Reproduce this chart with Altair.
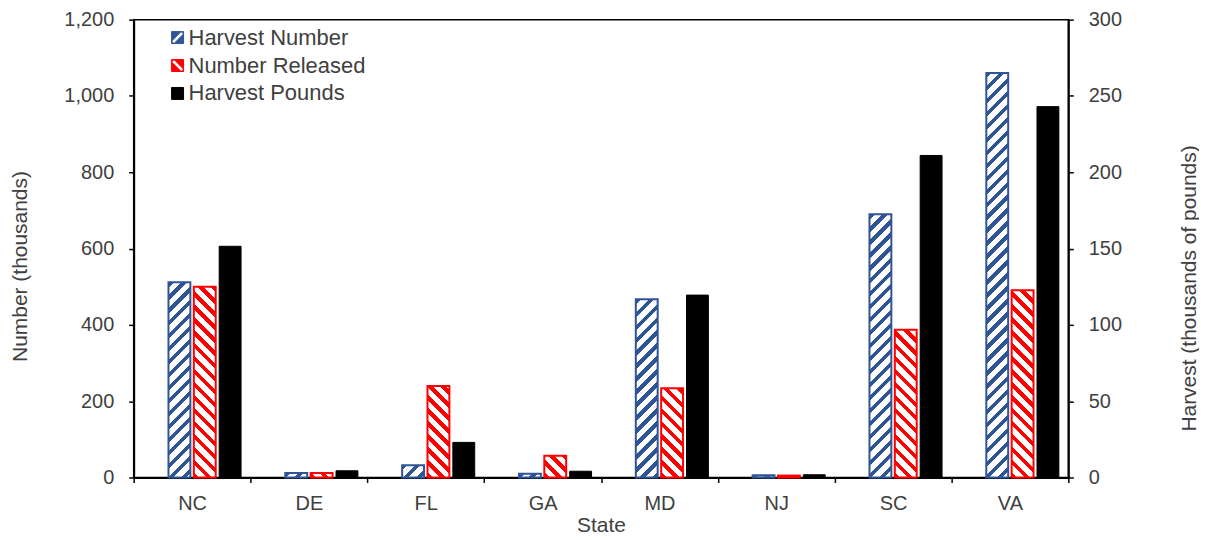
import math
import altair as alt
import pandas as pd

# ---------------- data ----------------
states = ["NC", "DE", "FL", "GA", "MD", "NJ", "SC", "VA"]
harvest_number = [512, 12, 32, 10, 467, 6, 690, 1060]      # thousands of fish (left axis)
number_released = [500, 12, 240, 57, 234, 5, 387, 491]     # thousands of fish (left axis)
harvest_pounds = [151.5, 4.4, 23, 4.1, 119.5, 1.8, 211, 243]  # thousands of pounds (right axis)

series_names = ["Harvest Number", "Number Released", "Harvest Pounds"]
series_colors = ["#2F5597", "#FF0000", "#000000"]
left_ticks = [0, 200, 400, 600, 800, 1000, 1200]
right_ticks = [0, 50, 100, 150, 200, 250, 300]

# ---------------- layout ----------------
W, H = 937, 459
LEFT_MAX, RIGHT_MAX = 1200, 300
PI, PO = 0.137, 0.373
FONT = "Liberation Sans"
TXT = "#404040"

rows = []
for i, s in enumerate(states):
    rows.append({"State": s, "Series": series_names[0], "Value": harvest_number[i]})
    rows.append({"State": s, "Series": series_names[1], "Value": number_released[i]})
    rows.append({"State": s, "Series": series_names[2], "Value": harvest_pounds[i]})
df = pd.DataFrame(rows)

band = W / len(states)
step = band / (4 - PI + 2 * PO)
bw = step * (1 - PI)


def hatch(color, w, h, forward, period=13.0, frac=0.42):
    """Diagonal stripe fill built as a linear gradient in bounding-box units."""
    S = w + h
    k = w * h * S / (w * w + h * h)
    dx, dy = k / h, k / w
    if forward:
        x1, y1, x2, y2 = 0, 0, dx, dy
    else:
        x1, y1, x2, y2 = 0, 1, dx, 1 - dy
    stops = []
    i = 0
    while True:
        a = i * period / S
        if a >= 1:
            break
        b = min((i + frac) * period / S, 1.0)
        stops += [
            {"offset": a, "color": "white"},
            {"offset": a, "color": color},
            {"offset": b, "color": color},
            {"offset": b, "color": "white"},
        ]
        i += 1
    return {"gradient": "linear", "x1": x1, "y1": y1, "x2": x2, "y2": y2, "stops": stops}


conds = []
for i, s in enumerate(states):
    for name, vals, color, fwd in [
        (series_names[0], harvest_number, series_colors[0], True),
        (series_names[1], number_released, series_colors[1], False),
    ]:
        h = max(vals[i] * H / LEFT_MAX, 0.5)
        conds.append({
            "test": f"datum.State === '{s}' && datum.Series === '{name}'",
            "value": hatch(color, bw, h, fwd),
        })

# legend swatch shapes: square with a white diagonal band cut out
SQ = "M-1,-1L1,-1L1,1L-1,1Z"
legend_shapes = [
    SQ + "M0.6,-1L-1,0.6L-0.6,1L1,-0.6Z",
    SQ + "M-0.6,-1L-1,-0.6L0.6,1L1,0.6Z",
    SQ,
]

legend = alt.Legend(
    title=None, orient="none", legendX=33, legendY=7, padding=0,
    symbolSize=144, symbolStrokeWidth=1,
    labelFontSize=22, labelFont=FONT, labelColor=TXT, labelOffset=0,
    labelLimit=400, rowPadding=6,
)

x_enc = alt.X(
    "State:N", sort=states, title="State",
    scale=alt.Scale(paddingInner=0, paddingOuter=0),
    axis=alt.Axis(labelAngle=0, tickBand="extent", tickSize=5, labelPadding=11,
                  titleY=48, titleBaseline="middle"),
)
xoff = alt.XOffset(
    "Series:N",
    scale=alt.Scale(domain=["_"] + series_names, paddingInner=PI, paddingOuter=PO),
)
stroke_enc = alt.Stroke(
    "Series:N",
    scale=alt.Scale(domain=series_names, range=series_colors),
    legend=legend,
)

left = alt.Chart(df).transform_filter(
    alt.FieldOneOfPredicate(field="Series", oneOf=series_names[:2])
).mark_bar(strokeWidth=2).encode(
    x=x_enc,
    xOffset=xoff,
    y=alt.Y(
        "Value:Q",
        scale=alt.Scale(domain=[0, LEFT_MAX], nice=False),
        axis=alt.Axis(values=left_ticks, format=",d", title="Number (thousands)",
                      orient="left", tickSize=5, labelPadding=15,
                      titleAngle=270, titleX=-113, titleY=247,
                      titleBaseline="middle", titleAlign="center"),
    ),
    stroke=stroke_enc,
    fill=alt.FillValue(value="white", condition=conds),
)

right = alt.Chart(df).transform_filter(
    alt.FieldEqualPredicate(field="Series", equal=series_names[2])
).mark_bar(strokeWidth=1, fill="black").encode(
    x=x_enc,
    xOffset=xoff,
    y=alt.Y(
        "Value:Q",
        scale=alt.Scale(domain=[0, RIGHT_MAX], nice=False),
        axis=alt.Axis(values=right_ticks, format=",d", title="Harvest (thousands of pounds)",
                      orient="right", tickSize=5, labelPadding=15,
                      titleAngle=270, titleX=121, titleY=269,
                      titleBaseline="middle", titleAlign="center"),
    ),
    stroke=stroke_enc,
)

# empty point layer that only contributes legend symbols (shape + fill)
legend_layer = alt.Chart(df).transform_filter("false").mark_point(filled=True).encode(
    shape=alt.Shape("Series:N", scale=alt.Scale(domain=series_names, range=legend_shapes),
                    legend=legend),
    fill=alt.Fill("Series:N", scale=alt.Scale(domain=series_names, range=series_colors),
                  legend=legend),
    stroke=stroke_enc,
)

chart = alt.layer(left, right, legend_layer).resolve_scale(y="independent").properties(
    width=W, height=H,
    autosize=alt.AutoSizeParams(type="none"),
    padding={"left": 126, "top": 11, "right": 131, "bottom": 58},
).configure_view(
    stroke="black", strokeWidth=1.5,
).configure_axis(
    grid=False, domainColor="black", domainWidth=2, tickColor="black", tickWidth=1.5,
    labelFont=FONT, labelFontSize=20, labelColor=TXT,
    titleFont=FONT, titleFontSize=21, titleColor=TXT, titleFontWeight="normal",
)

chart.save("out.html", embed_options={"renderer": "svg", "actions": False})
